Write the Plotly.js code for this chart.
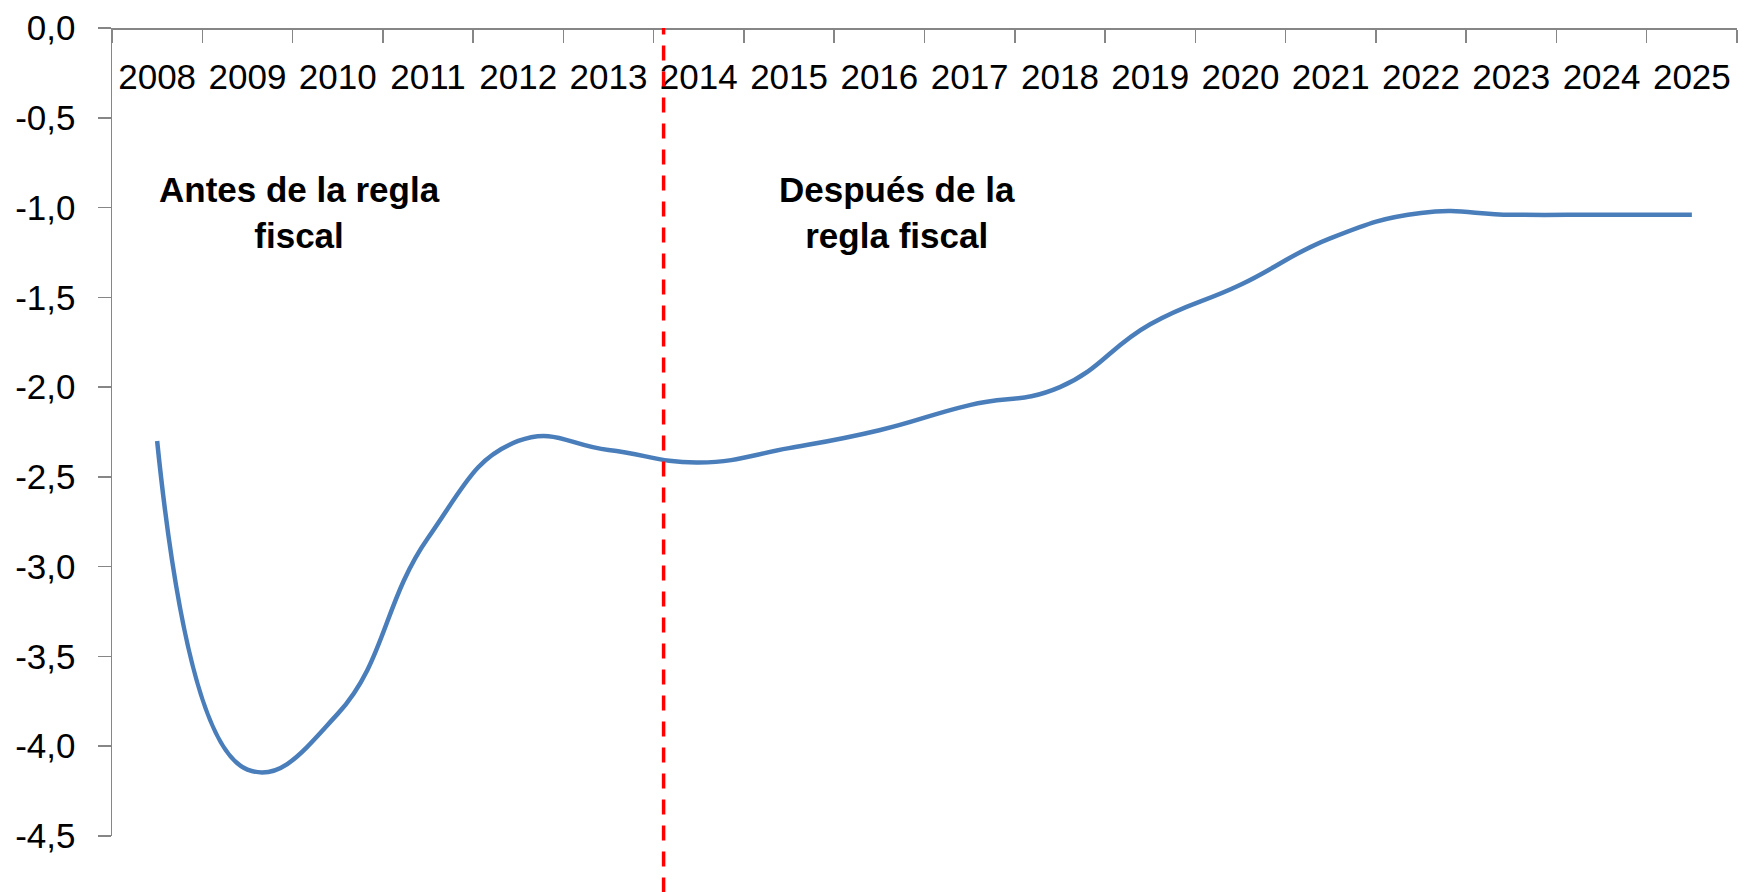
<!DOCTYPE html>
<html>
<head>
<meta charset="utf-8">
<script src="https://cdn.plot.ly/plotly-3.0.1.min.js"></script>
<style>
html,body{margin:0;padding:0;background:#fff;}
#chart{width:1746px;height:892px;}
</style>
</head>
<body>
<div id="chart"></div>
<script>
const years = ['2008','2009','2010','2011','2012','2013','2014','2015','2016','2017','2018','2019','2020','2021','2022','2023','2024','2025'];
const balance = [-2.30,-4.13,-3.82,-2.84,-2.30,-2.35,-2.42,-2.34,-2.24,-2.10,-2.00,-1.65,-1.43,-1.17,-1.03,-1.04,-1.04,-1.04];
const yTickVals = [0,-0.5,-1,-1.5,-2,-2.5,-3,-3.5,-4,-4.5];
const yTickText = ['0,0','-0,5','-1,0','-1,5','-2,0','-2,5','-3,0','-3,5','-4,0','-4,5'];
const ruleBreak = 5.61;
const labelBefore = 'Antes de la regla<br>fiscal';
const labelAfter = 'Después de la<br>regla fiscal';

const FONT = '"Liberation Sans", Arial, sans-serif';
const FS = 35;

const trace = {
  x: years, y: balance, type: 'scatter', mode: 'lines',
  line: {color: '#4a7ebb', width: 4.5, shape: 'spline', smoothing: 1.3},
  hoverinfo: 'x+y'
};

const layout = {
  width: 1746, height: 892,
  margin: {l: 112, r: 9, t: 28, b: 56},
  paper_bgcolor: '#ffffff', plot_bgcolor: '#ffffff',
  showlegend: false,
  font: {family: FONT, size: FS, color: '#000'},
  xaxis: {
    type: 'category', range: [-0.5, 17.5],
    side: 'bottom', anchor: 'free', position: 1,
    showline: true, linecolor: '#868686', linewidth: 1.5,
    ticks: 'outside', tickson: 'boundaries', ticklen: 13, tickwidth: 1.5, tickcolor: '#868686',
    tickangle: 0, ticklabelstandoff: 17,
    showgrid: false, zeroline: false,
    tickfont: {family: FONT, size: FS, color: '#000'}
  },
  yaxis: {
    range: [-4.5, 0], autorange: false,
    tickvals: yTickVals, ticktext: yTickText,
    showline: true, linecolor: '#868686', linewidth: 1.5,
    ticks: 'outside', ticklen: 13, tickwidth: 1.5, tickcolor: '#868686',
    ticklabelstandoff: 15,
    showgrid: false, zeroline: false,
    tickfont: {family: FONT, size: FS, color: '#000'}
  },
  shapes: [{
    type: 'line', xref: 'x', yref: 'paper',
    x0: ruleBreak, x1: ruleBreak, y0: -0.07, y1: 1,
    line: {color: '#ff0000', width: 3.5, dash: '15px,11px'}
  }],
  annotations: [
    {xref: 'x', yref: 'y', x: 1.58, y: -1.03, text: '<b>' + labelBefore + '</b>', showarrow: false,
     align: 'center', font: {family: FONT, size: FS, color: '#000'}},
    {xref: 'x', yref: 'y', x: 8.19, y: -1.03, text: '<b>' + labelAfter + '</b>', showarrow: false,
     align: 'center', font: {family: FONT, size: FS, color: '#000'}}
  ]
};

Plotly.newPlot('chart', [trace], layout, {displayModeBar: false, staticPlot: true});
</script>
</body>
</html>
